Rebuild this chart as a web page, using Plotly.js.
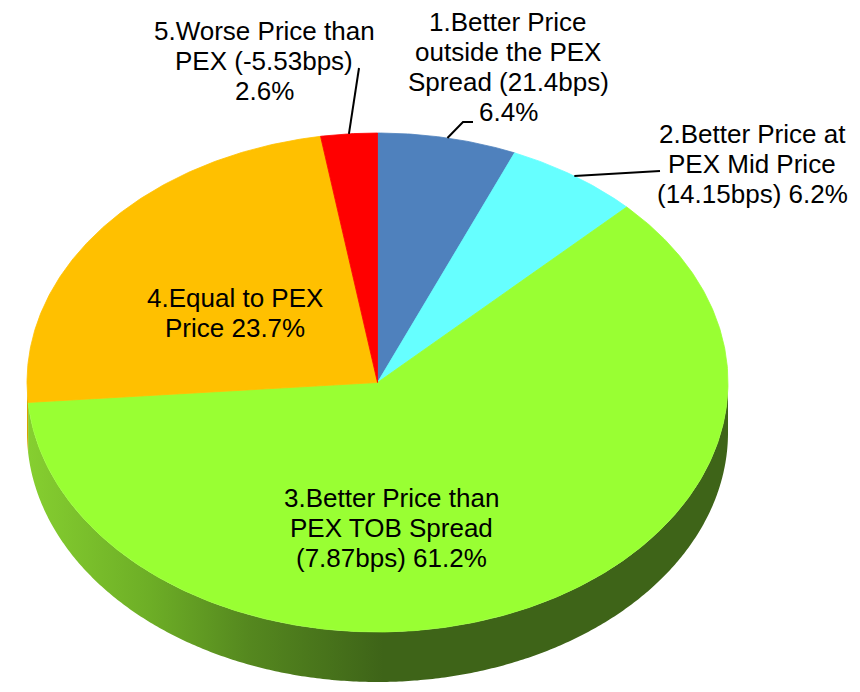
<!DOCTYPE html>
<html><head><meta charset="utf-8">
<script src="https://cdn.plot.ly/plotly-3.0.1.min.js"></script>
<style>html,body{margin:0;padding:0;background:#fff}#chart{width:860px;height:692px}</style>
</head><body><div id="chart"></div>
<script>
// ---- data ----
const categories = [
  "1.Better Price outside the PEX Spread (21.4bps)",
  "2.Better Price at PEX Mid Price (14.15bps)",
  "3.Better Price than PEX TOB Spread (7.87bps)",
  "4.Equal to PEX Price",
  "5.Worse Price than PEX (-5.53bps)"
];
const values = [6.4, 6.2, 61.2, 23.7, 2.6];
const labelLines = [
  ["1.Better Price", "outside the PEX", "Spread (21.4bps)", "6.4%"],
  ["2.Better Price at", "PEX Mid Price", "(14.15bps) 6.2%"],
  ["3.Better Price than", "PEX TOB Spread", "(7.87bps) 61.2%"],
  ["4.Equal to PEX", "Price 23.7%"],
  ["5.Worse Price than", "PEX (-5.53bps)", "2.6%"]
];
const topColors = ["#4F81BD", "#66FFFF", "#99FF33", "#FFC000", "#FF0000"];
const sideScales = [
  [[0, "#3B6191"], [1, "#2C4A70"]],
  [[0, "#4CC0C0"], [1, "#3A9494"]],
  [[0, "#86CF30"], [0.345, "#6DAE26"], [0.62, "#55881F"], [1, "#3E6418"]],
  [[0, "#D9A300"], [1, "#A07800"]],
  [[0, "#C00000"], [1, "#900000"]]
];

// ---- layout geometry (pixel space) ----
const G = {cx: 377.5, cy: 382.5, rx: 350.5, ry: 249.5, depth: 50};
const labelPos = [[508, 31], [752, 143], [391, 507], [235, 307], [264, 40]];
const leaderPts = [[[463, 122], [473, 122]], [[660, 171]], null, null, [[359, 68]]];
const FS = 26, LH = 30;

function pt(deg, dy) {
  const a = deg * Math.PI / 180;
  return [G.cx + G.rx * Math.sin(a), G.cy - G.ry * Math.cos(a) + (dy || 0)];
}
function arc(a0, a1, dy) {
  const n = Math.max(2, Math.ceil(Math.abs(a1 - a0) / 0.5));
  const out = [];
  for (let i = 0; i <= n; i++) out.push(pt(a0 + (a1 - a0) * i / n, dy));
  return out;
}

const total = values.reduce((s, v) => s + v, 0);
const bounds = [];
let acc = 0;
values.forEach(v => { const a0 = acc / total * 360; acc += v; bounds.push([a0, acc / total * 360]); });

const traces = [];
// side walls (front half only: 90..270 deg)
bounds.forEach((b, i) => {
  const s = Math.max(b[0], 90), e = Math.min(b[1], 270);
  if (e <= s) return;
  const top = arc(s, e, 0), bot = arc(e, s, G.depth);
  const P = top.concat(bot);
  P.push(P[0]);
  traces.push({
    type: "scatter", mode: "none", fill: "toself",
    x: P.map(p => p[0]), y: P.map(p => p[1]),
    fillgradient: {type: "horizontal", colorscale: sideScales[i], start: 27, stop: 383},
    hoverinfo: "skip", showlegend: false
  });
});
// top faces
bounds.forEach((b, i) => {
  const P = [[G.cx, G.cy]].concat(arc(b[0], b[1], 0));
  P.push([G.cx, G.cy]);
  traces.push({
    type: "scatter", mode: "lines", fill: "toself",
    x: P.map(p => p[0]), y: P.map(p => p[1]),
    fillcolor: topColors[i], line: {color: topColors[i], width: 0.8},
    name: categories[i], hoverinfo: "skip", showlegend: false
  });
});

// labels
const annotations = [];
labelLines.forEach((lines, i) => {
  lines.forEach((t, k) => {
    annotations.push({
      x: labelPos[i][0], y: labelPos[i][1] + k * LH - 9, xref: "x", yref: "y",
      text: t, showarrow: false, xanchor: "center", yanchor: "middle",
      font: {family: "Liberation Sans, Arial, sans-serif", size: FS, color: "#000"}
    });
  });
});
// leader lines from slice mid-angle edge
const shapes = [];
bounds.forEach((b, i) => {
  if (!leaderPts[i]) return;
  const m = pt((b[0] + b[1]) / 2, 0);
  let d = "M" + m[0] + "," + m[1];
  leaderPts[i].forEach(p => { d += " L" + p[0] + "," + p[1]; });
  shapes.push({type: "path", xref: "x", yref: "y", path: d, line: {color: "#000", width: 2}});
});

const layout = {
  width: 860, height: 692,
  margin: {l: 0, r: 0, t: 0, b: 0},
  paper_bgcolor: "#fff", plot_bgcolor: "#fff",
  xaxis: {range: [0, 860], visible: false, fixedrange: true},
  yaxis: {range: [692, 0], visible: false, fixedrange: true},
  showlegend: false,
  annotations: annotations, shapes: shapes
};
Plotly.newPlot("chart", traces, layout, {displayModeBar: false, staticPlot: true});
</script></body></html>
